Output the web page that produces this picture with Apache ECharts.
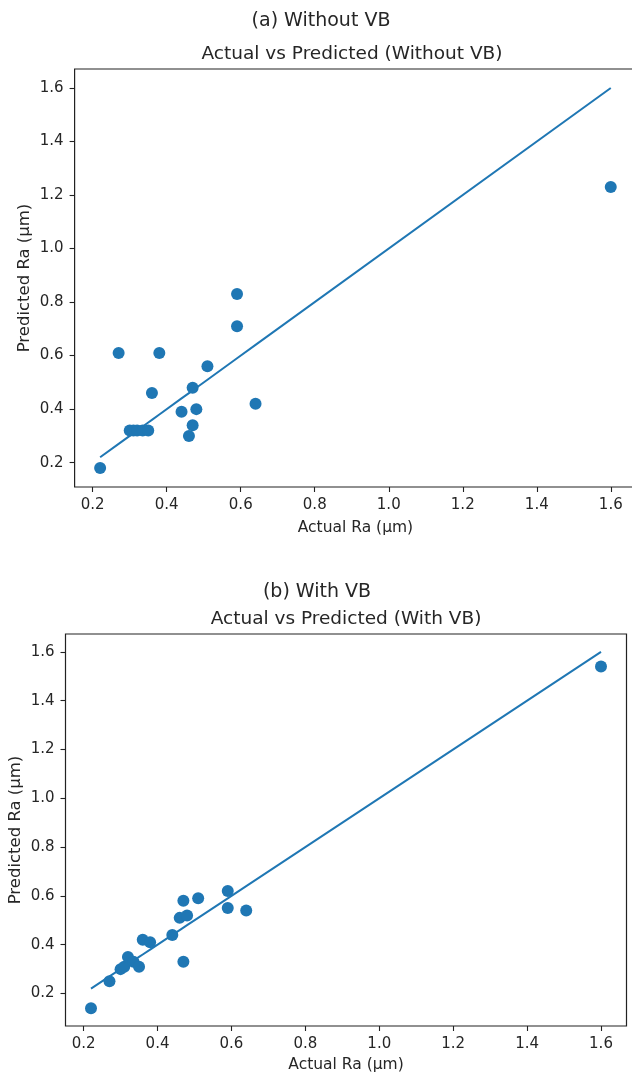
<!DOCTYPE html>
<html>
<head>
<meta charset="utf-8">
<script src="https://cdn.jsdelivr.net/npm/echarts@6/dist/echarts.min.js"></script>
<style>
html,body{margin:0;padding:0;background:#fff;}
#chart{width:632px;height:1074px;}
</style>
</head>
<body>
<div id="chart"></div>
<script>
// ---- data ----
const actualRa = [0.22, 0.27, 0.30, 0.31, 0.32, 0.335, 0.35, 0.36, 0.38, 0.44, 0.46, 0.47, 0.47, 0.48, 0.51, 0.59, 0.59, 0.64, 1.60];
const predictedWithoutVB = [0.18, 0.61, 0.32, 0.32, 0.32, 0.32, 0.32, 0.46, 0.61, 0.39, 0.30, 0.48, 0.34, 0.40, 0.56, 0.83, 0.71, 0.42, 1.23];
const predictedWithVB = [0.14, 0.25, 0.30, 0.31, 0.35, 0.33, 0.31, 0.42, 0.41, 0.44, 0.51, 0.58, 0.33, 0.52, 0.59, 0.62, 0.55, 0.54, 1.54];
const tickValues = [0.2, 0.4, 0.6, 0.8, 1.0, 1.2, 1.4, 1.6];
const panelTitles = ["(a) Without VB", "(b) With VB"];
const chartTitles = ["Actual vs Predicted (Without VB)", "Actual vs Predicted (With VB)"];
const xName = "Actual Ra (μm)";
const yName = "Predicted Ra (μm)";

const BLUE = '#1f77b4';
const FONT = 'DejaVu Sans';
const TXT = '#262626';

const grids = [
  {left: 74.6, top: 69, width: 561.7, height: 418},
  {left: 65.5, top: 634, width: 561, height: 392}
];
const xRanges = [[0.151, 1.669], [0.151, 1.669]];
const yRanges = [[0.109, 1.671], [0.067, 1.673]];
const xNameGaps = [33, 31];

function fmt(v){ return v.toFixed(1); }

function xAxis(i){
  return {
    type: 'value', gridIndex: i, min: xRanges[i][0], max: xRanges[i][1],
    splitLine: {show: false},
    axisLine: {show: false},
    axisTick: {show: true, customValues: tickValues, length: 5, inside: false, lineStyle: {color: '#222', width: 1.1}},
    axisLabel: {customValues: tickValues, formatter: fmt, color: TXT, fontFamily: FONT, fontSize: 15, margin: 11},
    name: xName, nameLocation: 'middle', nameGap: xNameGaps[i], nameMoveOverlap: false,
    nameTextStyle: {color: TXT, fontFamily: FONT, fontSize: 15.5}
  };
}
function yAxis(i){
  return {
    type: 'value', gridIndex: i, min: yRanges[i][0], max: yRanges[i][1],
    splitLine: {show: false},
    axisLine: {show: false},
    axisTick: {show: true, customValues: tickValues, length: 5, inside: false, lineStyle: {color: '#222', width: 1.1}},
    axisLabel: {customValues: tickValues, formatter: fmt, color: TXT, fontFamily: FONT, fontSize: 15, margin: 11},
    name: yName, nameLocation: 'middle', nameGap: 41, nameMoveOverlap: false,
    nameTextStyle: {color: TXT, fontFamily: FONT, fontSize: 16.5}
  };
}

const predSets = [predictedWithoutVB, predictedWithVB];
const series = [];
for (let i = 0; i < 2; i++) {
  const sorted = actualRa.slice().sort((a,b)=>a-b);
  series.push({
    type: 'line', xAxisIndex: i, yAxisIndex: i,
    data: sorted.map(a => [a, a]),
    showSymbol: false, symbol: 'none',
    lineStyle: {color: BLUE, width: 2},
    silent: true, z: 2
  });
  series.push({
    type: 'scatter', xAxisIndex: i, yAxisIndex: i,
    data: actualRa.map((a, k) => [a, predSets[i][k]]),
    symbolSize: 12,
    itemStyle: {color: BLUE, opacity: 1},
    z: 3
  });
}

const titlePos = [
  {sub: [321, 21], main: [352, 54]},
  {sub: [317, 592], main: [346, 619]}
];
const graphic = [];
for (let i = 0; i < 2; i++) {
  graphic.push({type: 'text', x: titlePos[i].sub[0], y: titlePos[i].sub[1],
    style: {text: panelTitles[i], fill: TXT, font: '19px "DejaVu Sans"', textAlign: 'center', textVerticalAlign: 'middle'}});
  graphic.push({type: 'text', x: titlePos[i].main[0], y: titlePos[i].main[1],
    style: {text: chartTitles[i], fill: TXT, font: '18.5px "DejaVu Sans"', textAlign: 'center', textVerticalAlign: 'middle'}});
}

const chart = echarts.init(document.getElementById('chart'), null, {renderer: 'canvas'});
chart.setOption({
  animation: false,
  backgroundColor: '#fff',
  grid: grids.map(g => Object.assign({show: true, borderColor: '#222', borderWidth: 1.2, backgroundColor: 'transparent', containLabel: false, outerBoundsMode: 'none'}, g)),
  xAxis: [xAxis(0), xAxis(1)],
  yAxis: [yAxis(0), yAxis(1)],
  series: series,
  graphic: graphic
});
</script>
</body>
</html>
